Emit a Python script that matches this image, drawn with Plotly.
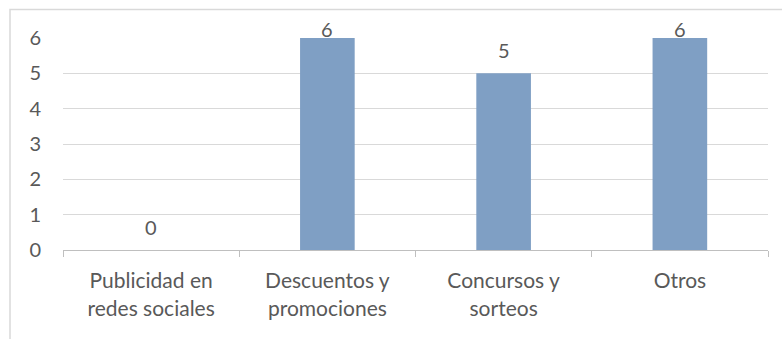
import plotly.graph_objects as go

categories = ["Publicidad en<br>redes sociales", "Descuentos y<br>promociones",
              "Concursos y<br>sorteos", "Otros"]
values = [0, 6, 5, 6]
y_ticks = [0, 1, 2, 3, 4, 5, 6]

W, H = 782, 339
ml, mr, mt, mb = 63, 14, 38, 89
pw, ph = W - ml - mr, H - mt - mb
y_max = 6

num_font = dict(family="Lato, Carlito, Calibri, sans-serif", size=20, color="#595959")
cat_font = dict(family="Lato, Carlito, Calibri, sans-serif", size=21, color="#595959")

fig = go.Figure(go.Bar(
    x=categories, y=values,
    marker=dict(color="#7f9fc4", line=dict(width=0)),
    width=0.31,
    hoverinfo="x+y",
))

# value labels: sit ~23px above the bar, but never closer than 30px to the image top
for cat, v in zip(categories, values):
    bar_top_px = mt + ph * (1 - v / y_max)
    label_px = max(bar_top_px - 23, 29)
    fig.add_annotation(x=cat, y=v, text=str(v), showarrow=False,
                       yanchor="middle", yshift=bar_top_px - label_px,
                       font=num_font)

# outer chart frame
fig.add_shape(type="rect", xref="paper", yref="paper",
              x0=(10 - ml) / pw, x1=1.2,
              y0=-1.0, y1=(H - mb - 9.5) / ph,
              line=dict(color="#d9d9d9", width=1.5), layer="below")

fig.update_layout(
    width=W, height=H,
    margin=dict(l=ml, r=mr, t=mt, b=mb),
    paper_bgcolor="white", plot_bgcolor="white",
    font=num_font,
    showlegend=False,
    bargap=0.69,
)
fig.update_xaxes(
    tickson="boundaries", ticks="outside", ticklen=6, tickcolor="#bfbfbf",
    showline=True, linecolor="#bfbfbf", linewidth=1,
    showgrid=False, tickfont=cat_font, ticklabelstandoff=12,
)
fig.update_yaxes(
    range=[0, y_max], tickvals=y_ticks, showgrid=True, gridcolor="#d9d9d9",
    gridwidth=1, zeroline=False, showline=False, ticks="",
    tickfont=num_font, ticklabelstandoff=21,
)

fig.write_html("out.html")
